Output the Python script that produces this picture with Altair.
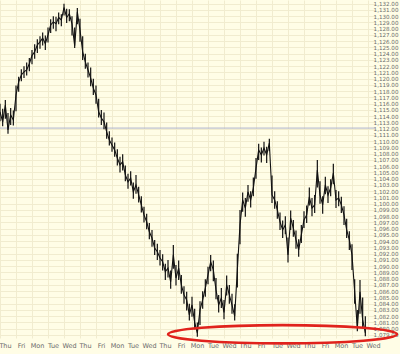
import altair as alt
import pandas as pd

# Trading-day labels along the bottom (one per session)
day_names = ["Thu", "Fri", "Mon", "Tue", "Wed", "Thu", "Fri", "Mon", "Tue", "Wed",
             "Thu", "Fri", "Mon", "Tue", "Wed", "Thu", "Fri", "Tue", "Wed", "Thu",
             "Fri", "Mon", "Tue", "Wed"]

bars_per_day = 6

# Intraday closes (6 bars per session)
prices = [
    1114.7, 1113.1, 1115.8, 1111.8, 1114.2, 1113.4,
    1117.4, 1119.5, 1120.6, 1121.1, 1121.4, 1122.4,
    1123.7, 1124.3, 1125.4, 1125.9, 1126.5, 1125.6,
    1127.0, 1128.6, 1129.1, 1128.8, 1129.8, 1129.4,
    1131.4, 1129.8, 1130.4, 1128.8, 1125.3, 1130.7,
    1127.8, 1124.3, 1122.7, 1121.4, 1120.1, 1118.5,
    1117.4, 1114.7, 1113.7, 1113.1, 1111.5, 1110.2,
    1109.4, 1108.6, 1107.3, 1106.2, 1106.7, 1104.6,
    1103.5, 1104.1, 1101.9, 1103.0, 1101.4, 1099.8,
    1098.2, 1097.1, 1095.5, 1094.5, 1092.9, 1092.3,
    1091.3, 1090.7, 1089.1, 1089.7, 1087.5, 1091.8,
    1088.1, 1089.7, 1087.0, 1085.4, 1084.6, 1082.2,
    1083.8, 1081.0, 1079.3, 1083.0, 1084.6, 1086.5,
    1088.6, 1090.7, 1089.4, 1086.2, 1083.8, 1084.9,
    1082.6, 1087.0, 1085.4, 1083.8, 1082.0, 1089.4,
    1096.6, 1100.6, 1099.3, 1101.9, 1100.6, 1102.5,
    1105.7, 1108.6, 1107.8, 1108.9, 1107.8, 1109.7,
    1101.4, 1100.6, 1099.0, 1097.1, 1095.8, 1096.6,
    1091.8, 1097.7, 1096.1, 1094.2, 1092.6, 1095.0,
    1097.4, 1098.2, 1101.1, 1099.3, 1099.8, 1105.4,
    1101.4, 1099.8, 1103.0, 1101.4, 1102.5, 1104.9,
    1100.6, 1100.9, 1099.8, 1098.2, 1095.8, 1094.2,
    1091.8, 1085.9, 1080.1, 1085.9, 1081.4, 1079.3,
]

# Bar highs
highs = [
    1116.0, 1115.2, 1116.6, 1114.5, 1115.3, 1114.9,
    1118.9, 1120.3, 1121.5, 1122.0, 1122.6, 1123.3,
    1124.6, 1125.5, 1126.3, 1126.8, 1127.4, 1126.9,
    1128.2, 1129.5, 1130.0, 1129.9, 1130.6, 1130.3,
    1132.0, 1131.2, 1131.1, 1130.0, 1128.2, 1131.3,
    1129.6, 1126.8, 1124.0, 1122.6, 1121.8, 1120.0,
    1118.9, 1116.8, 1115.0, 1114.6, 1113.0, 1111.6,
    1110.6, 1109.8, 1108.7, 1107.5, 1107.9, 1106.1,
    1104.8, 1105.2, 1103.4, 1104.6, 1102.7, 1101.2,
    1099.5, 1098.4, 1096.9, 1095.8, 1094.2, 1093.6,
    1092.6, 1091.9, 1090.4, 1091.0, 1089.3, 1093.4,
    1090.2, 1090.9, 1088.6, 1086.8, 1085.9, 1084.0,
    1085.1, 1083.2, 1081.0, 1084.4, 1086.0, 1087.9,
    1089.9, 1091.8, 1090.9, 1088.1, 1085.4, 1086.5,
    1084.6, 1088.5, 1087.0, 1085.6, 1083.9, 1092.0,
    1099.0, 1101.8, 1100.9, 1103.0, 1102.0, 1104.2,
    1107.3, 1109.6, 1109.0, 1109.9, 1109.1, 1110.4,
    1104.5, 1102.0, 1100.4, 1098.6, 1097.3, 1098.0,
    1094.6, 1098.9, 1097.4, 1095.7, 1094.3, 1096.6,
    1098.8, 1099.7, 1102.6, 1100.9, 1101.4, 1107.0,
    1103.6, 1101.2, 1104.3, 1102.8, 1103.9, 1106.4,
    1102.2, 1102.0, 1101.1, 1099.6, 1097.6, 1095.6,
    1093.5, 1087.9, 1083.0, 1087.8, 1085.0, 1082.0,
]

# Bar lows
lows = [
    1113.2, 1112.4, 1113.6, 1111.2, 1112.6, 1112.5,
    1114.8, 1117.9, 1119.6, 1120.1, 1120.5, 1121.2,
    1122.3, 1123.2, 1124.1, 1124.8, 1125.3, 1124.6,
    1125.8, 1127.3, 1128.0, 1127.6, 1128.7, 1128.4,
    1130.1, 1128.9, 1129.2, 1126.9, 1124.9, 1128.7,
    1125.9, 1123.0, 1121.6, 1120.2, 1118.8, 1117.4,
    1116.0, 1113.8, 1112.6, 1111.9, 1110.4, 1109.3,
    1108.3, 1107.5, 1106.1, 1105.0, 1105.3, 1103.6,
    1102.4, 1102.9, 1100.8, 1101.6, 1100.2, 1098.6,
    1097.0, 1095.9, 1094.3, 1093.1, 1091.8, 1091.0,
    1090.1, 1089.3, 1087.8, 1088.2, 1086.4, 1089.6,
    1086.9, 1087.8, 1085.6, 1084.0, 1082.9, 1081.3,
    1081.9, 1079.9, 1078.7, 1080.6, 1083.2, 1085.1,
    1087.1, 1089.2, 1087.6, 1084.7, 1082.6, 1083.3,
    1081.5, 1085.3, 1084.0, 1082.4, 1081.3, 1086.6,
    1093.5, 1098.7, 1097.9, 1100.3, 1099.4, 1101.2,
    1104.0, 1107.0, 1106.6, 1107.7, 1106.5, 1108.4,
    1100.1, 1099.2, 1097.6, 1095.8, 1094.5, 1095.1,
    1090.6, 1095.8, 1094.7, 1092.8, 1091.5, 1093.7,
    1096.1, 1096.9, 1099.7, 1098.0, 1098.5, 1102.6,
    1100.0, 1098.4, 1101.5, 1100.1, 1101.2, 1103.1,
    1099.3, 1099.6, 1098.5, 1096.6, 1094.5, 1092.6,
    1089.4, 1084.0, 1079.6, 1082.4, 1080.2, 1078.8,
]

y_ticks = list(range(1079, 1133))
ref_level = [1112.1]           # grey horizontal reference line
ellipse_center_day = [17.66]   # red annotation ellipse centre
ellipse_center_price = [1079.1]

df = pd.DataFrame({
    "day": [i / bars_per_day for i in range(len(prices))],
    "price": prices,
    "high": highs,
    "low": lows,
})
ref_df = pd.DataFrame({"level": ref_level})
ell_df = pd.DataFrame({"day": ellipse_center_day, "price": ellipse_center_price})

bg = "#FFFDE6"
grid = "#F1ECCF"
txt = "#6A6A6A"

label_expr = "[" + ",".join("'" + d + "'" for d in day_names) + "][datum.value]"

x_scale = alt.Scale(domain=[0, 23.5], nice=False, zero=False)
y_scale = alt.Scale(domain=[1078.5, 1132.6], nice=False, zero=False)

x_axis = alt.Axis(values=list(range(len(day_names))), tickCount=len(day_names),
                  labelExpr=label_expr,
                  title=None, grid=True, gridColor=grid, gridWidth=1,
                  ticks=False, domain=False, labelFont="DejaVu Sans",
                  labelFontSize=6.5, labelColor=txt, labelAlign="center",
                  labelOffset=5, labelPadding=4, labelOverlap=False,
                  labelBound=False, labelFlush=False)
y_axis = alt.Axis(values=y_ticks, tickCount=len(y_ticks), format=",.2f",
                  orient="right", title=None,
                  grid=True, gridColor=grid, gridWidth=1, ticks=False,
                  tickSize=0, domain=False, labelFont="DejaVu Sans",
                  labelFontSize=5.6, labelColor=txt, labelAlign="right",
                  labelPadding=22, labelBaseline="middle", labelOverlap=False,
                  labelBound=False, labelFlush=False)

bars = alt.Chart(df).mark_rule(color="#111111", strokeWidth=1.2).encode(
    x=alt.X("day:Q", scale=x_scale, axis=x_axis),
    y=alt.Y("low:Q", scale=y_scale, axis=y_axis),
    y2="high:Q",
)

close_line = alt.Chart(df).mark_line(color="#111111", strokeWidth=1.1).encode(
    x=alt.X("day:Q", scale=x_scale),
    y=alt.Y("price:Q", scale=y_scale),
)

ref_rule = alt.Chart(ref_df).mark_rule(color="#AEB3CC", strokeWidth=1).encode(
    y=alt.Y("level:Q", scale=y_scale)
)

ellipse = alt.Chart(ell_df).mark_point(
    shape="M -1 0 A 1 0.08 0 1 1 1 0 A 1 0.08 0 1 1 -1 0 Z",
    size=229 * 229, filled=False, stroke="#E0221C", strokeWidth=2.6, opacity=1,
).encode(
    x=alt.X("day:Q", scale=x_scale),
    y=alt.Y("price:Q", scale=y_scale),
)

chart = alt.layer(ref_rule, bars, close_line, ellipse).properties(
    width=376, height=338,
    background=bg,
    padding={"left": 0, "top": 0, "right": 24, "bottom": 16},
    autosize=alt.AutoSizeParams(type="none"),
).configure_view(stroke=None, fill=bg)

chart.save("out.html", embed_options={"renderer": "svg", "actions": False})
